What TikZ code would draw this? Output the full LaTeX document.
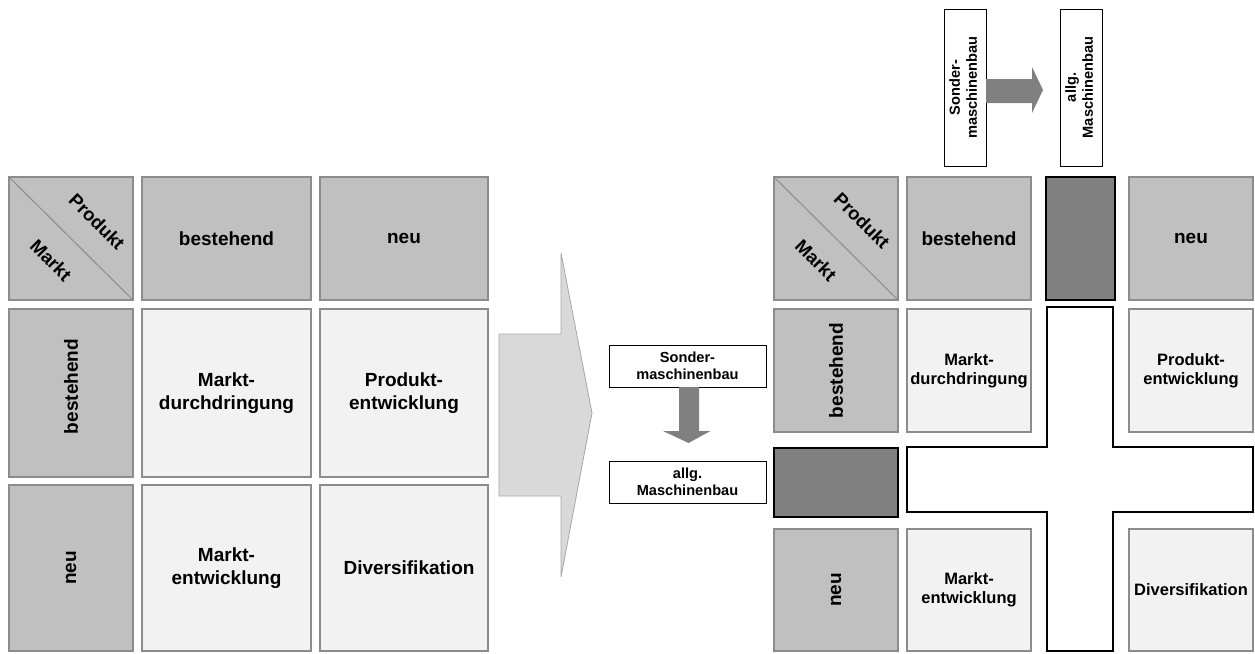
\documentclass[tikz,border=0pt]{standalone}
\usepackage{fontspec}
\setmainfont{Liberation Sans}
\usetikzlibrary{calc}

\definecolor{hdrgray}{HTML}{C0C0C0}
\definecolor{cellgray}{HTML}{F2F2F2}
\definecolor{framegray}{HTML}{8C8C8C}
\definecolor{darkfill}{HTML}{808080}
\definecolor{bigarrow}{HTML}{D9D9D9}
\definecolor{bigarrowline}{HTML}{A6A6A6}

% box given by its top-left and bottom-right corners
\newcommand\gridbox[7]{%
  \node[#1, anchor=north west, minimum width={#5-#3}, minimum height={#6-#4}] (#2) at (#3,#4) {#7};}

\begin{document}
\begin{tikzpicture}[x=1pt, y=-1pt,
  every node/.style={inner sep=0pt, outer sep=0pt, align=center},
  hdr/.style={fill=hdrgray, draw=framegray, line width=1.8pt,
    font=\fontsize{19}{22.5}\selectfont\bfseries},
  field/.style={fill=cellgray, draw=framegray, line width=1.8pt,
    font=\fontsize{19}{22.5}\selectfont\bfseries},
  fieldsmall/.style={fill=cellgray, draw=framegray, line width=1.8pt,
    font=\fontsize{16.5}{19.3}\selectfont\bfseries},
  darkbox/.style={fill=darkfill, draw=black, line width=2pt},
  labelbox/.style={fill=white, draw=black, line width=0.9pt,
    font=\fontsize{14.6}{17}\selectfont\bfseries},
  blockarrow/.style={fill=darkfill},
  cornertext/.style={font=\fontsize{18.5}{22}\selectfont\bfseries}
]
\useasboundingbox (0,0) rectangle (1255,653);

% ---------- left matrix ----------
\gridbox{hdr}{lc}{9}{177}{133}{300}{}
\draw[framegray, line width=1pt] (lc.north west) -- (lc.south east);
\node[cornertext] (lprod) at ($(lc.center)+(26,-17)$) {\rotatebox{-45}{Produkt}};
\node[cornertext] (lmarkt) at ($(lc.center)+(-20,22)$) {\rotatebox{-45}{Markt}};
\gridbox{hdr}{lh1}{142}{177}{311}{300}{bestehend}
\gridbox{hdr}{lh2}{320}{177}{488}{300}{neu}
\gridbox{hdr}{lr1}{9}{309}{133}{477}{\rotatebox{90}{\hspace*{13pt}bestehend}}
\gridbox{hdr}{lr2}{9}{485}{133}{651}{\rotatebox{90}{neu}}
\gridbox{field}{l11}{142}{309}{311}{477}{Markt-\\durchdringung}
\gridbox{field}{l12}{320}{309}{488}{477}{Produkt-\\entwicklung}
\gridbox{field}{l21}{142}{485}{311}{651}{Markt-\\entwicklung}
\gridbox{field}{l22}{320}{485}{488}{651}{\hspace*{10pt}Diversifikation}

% ---------- transition arrow ----------
\draw[fill=bigarrow, draw=bigarrowline, line width=0.8pt]
  (499,334) -- (561,334) -- (561,253) -- (592,413) -- (561,577)
  -- (561,496) -- (499,496) -- cycle;

% ---------- shift of the business ----------
\gridbox{labelbox}{s1}{609}{345}{766}{387}{Sonder-\\maschinenbau}
\gridbox{labelbox}{a1}{609}{461}{766}{503}{allg.\\Maschinenbau}
\fill[blockarrow]
  ($(s1.south)+(-8.5,0)$) -- ($(s1.south)+(11.5,0)$)
  -- ($(a1.north)+(11.5,-30)$) -- ($(a1.north)+(23,-30)$)
  -- ($(a1.north)+(1,-18)$) -- ($(a1.north)+(-24.5,-30)$)
  -- ($(a1.north)+(-8.5,-30)$) -- cycle;

\gridbox{labelbox}{s2}{944}{9}{986}{166}{\rotatebox{90}{\begin{tabular}{@{}c@{}}Sonder-\\maschinenbau\end{tabular}}}
\gridbox{labelbox}{a2}{1060}{9}{1102}{166}{\rotatebox{90}{\begin{tabular}{@{}c@{}}allg.\\Maschinenbau\end{tabular}}}
\fill[blockarrow]
  ($(s2.east)+(0,-8.5)$) -- ($(a2.west)+(-28,-8.5)$)
  -- ($(a2.west)+(-28,-20.5)$) -- ($(a2.west)+(-17,2.5)$)
  -- ($(a2.west)+(-28,25.5)$) -- ($(a2.west)+(-28,15.5)$)
  -- ($(s2.east)+(0,15.5)$) -- cycle;

% ---------- right matrix with inserted row and column ----------
\draw[fill=white, draw=black, line width=2pt]
  (1047,307) -- (1113,307) -- (1113,447) -- (1253,447) -- (1253,512)
  -- (1113,512) -- (1113,651) -- (1047,651) -- (1047,512) -- (907,512)
  -- (907,447) -- (1047,447) -- cycle;

\gridbox{hdr}{rc}{774}{177}{898}{300}{}
\draw[framegray, line width=1pt] (rc.north west) -- (rc.south east);
\node[cornertext] (rprod) at ($(rc.center)+(26,-18)$) {\rotatebox{-45}{Produkt}};
\node[cornertext] (rmarkt) at ($(rc.center)+(-20,22)$) {\rotatebox{-45}{Markt}};
\gridbox{hdr}{rh1}{907}{177}{1031}{300}{bestehend}
\gridbox{darkbox}{rhx}{1046}{177}{1115}{300}{}
\gridbox{hdr}{rh2}{1129}{177}{1253}{300}{neu}
\gridbox{hdr}{rr1}{774}{309}{898}{432}{\rotatebox{90}{bestehend}}
\gridbox{darkbox}{rrx}{774}{448}{898}{517}{}
\gridbox{hdr}{rr2}{774}{529}{898}{651}{\rotatebox{90}{neu}}
\gridbox{fieldsmall}{r11}{907}{309}{1031}{432}{Markt-\\durchdringung}
\gridbox{fieldsmall}{r12}{1129}{309}{1253}{432}{Produkt-\\entwicklung}
\gridbox{fieldsmall}{r21}{907}{529}{1031}{651}{Markt-\\entwicklung}
\gridbox{fieldsmall}{r22}{1129}{529}{1253}{651}{Diversifikation}
\end{tikzpicture}
\end{document}
